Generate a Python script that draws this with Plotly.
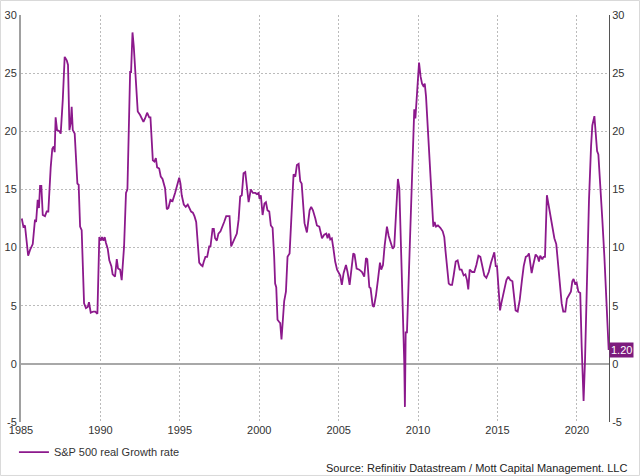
import plotly.graph_objects as go

# ---- data (decimal year, real growth rate %) ----
years = [
    1985.05, 1985.15, 1985.25, 1985.45, 1985.57, 1985.74, 1985.88, 1985.95, 1986.05, 1986.13,
    1986.20, 1986.28, 1986.37, 1986.51, 1986.62, 1986.72, 1986.87, 1986.97, 1987.06, 1987.12,
    1987.18, 1987.27, 1987.42, 1987.50, 1987.63, 1987.75, 1987.88, 1987.96, 1988.05, 1988.13,
    1988.19, 1988.26, 1988.38, 1988.55, 1988.63, 1988.72, 1988.82, 1988.97, 1989.09, 1989.20,
    1989.28, 1989.39, 1989.56, 1989.68, 1989.81, 1989.93, 1990.02, 1990.10, 1990.19, 1990.27,
    1990.35, 1990.46, 1990.56, 1990.69, 1990.77, 1990.92, 1991.03, 1991.11, 1991.24, 1991.34,
    1991.49, 1991.61, 1991.70, 1991.87, 1991.93, 1992.02, 1992.10, 1992.23, 1992.35, 1992.50,
    1992.71, 1992.81, 1992.94, 1993.07, 1993.15, 1993.30, 1993.40, 1993.49, 1993.57, 1993.70,
    1993.80, 1993.91, 1994.01, 1994.07, 1994.18, 1994.28, 1994.41, 1994.54, 1994.70, 1994.85,
    1994.96, 1995.04, 1995.12, 1995.25, 1995.37, 1995.50, 1995.61, 1995.71, 1995.82, 1995.92,
    1996.03, 1996.13, 1996.22, 1996.34, 1996.43, 1996.51, 1996.61, 1996.72, 1996.85, 1996.93,
    1997.06, 1997.14, 1997.22, 1997.33, 1997.43, 1997.56, 1997.69, 1997.79, 1997.92, 1998.02,
    1998.13, 1998.23, 1998.42, 1998.59, 1998.70, 1998.80, 1998.90, 1999.01, 1999.12, 1999.22,
    1999.33, 1999.47, 1999.60, 1999.75, 1999.85, 1999.96, 2000.02, 2000.10, 2000.21, 2000.33,
    2000.42, 2000.52, 2000.63, 2000.73, 2000.84, 2000.94, 2001.00, 2001.07, 2001.15, 2001.26,
    2001.32, 2001.40, 2001.49, 2001.57, 2001.68, 2001.78, 2001.91, 2002.06, 2002.16, 2002.27,
    2002.37, 2002.48, 2002.58, 2002.67, 2002.75, 2002.85, 2003.00, 2003.17, 2003.27, 2003.38,
    2003.53, 2003.63, 2003.78, 2003.95, 2004.09, 2004.22, 2004.30, 2004.39, 2004.47, 2004.57,
    2004.68, 2004.78, 2004.90, 2005.00, 2005.10, 2005.20, 2005.31, 2005.46, 2005.56, 2005.69,
    2005.79, 2005.92, 2006.00, 2006.13, 2006.30, 2006.47, 2006.61, 2006.72, 2006.80, 2006.93,
    2007.01, 2007.14, 2007.22, 2007.35, 2007.47, 2007.60, 2007.68, 2007.79, 2007.89, 2008.04,
    2008.15, 2008.27, 2008.40, 2008.50, 2008.61, 2008.73, 2008.82, 2008.92, 2008.99, 2009.07,
    2009.13, 2009.17, 2009.22, 2009.30, 2009.41, 2009.51, 2009.62, 2009.76, 2009.83, 2009.91,
    2010.00, 2010.06, 2010.16, 2010.25, 2010.33, 2010.42, 2010.50, 2010.67, 2010.84, 2010.96,
    2011.04, 2011.13, 2011.25, 2011.40, 2011.55, 2011.65, 2011.72, 2011.82, 2011.93, 2012.03,
    2012.14, 2012.24, 2012.37, 2012.49, 2012.62, 2012.74, 2012.87, 2012.98, 2013.08, 2013.16,
    2013.25, 2013.40, 2013.54, 2013.67, 2013.80, 2013.92, 2014.05, 2014.17, 2014.30, 2014.45,
    2014.59, 2014.72, 2014.80, 2014.89, 2014.97, 2015.07, 2015.16, 2015.24, 2015.33, 2015.43,
    2015.56, 2015.68, 2015.81, 2015.94, 2016.02, 2016.14, 2016.27, 2016.40, 2016.54, 2016.65,
    2016.78, 2016.90, 2016.98, 2017.05, 2017.15, 2017.25, 2017.40, 2017.53, 2017.61, 2017.69,
    2017.82, 2017.90, 2017.99, 2018.11, 2018.20, 2018.32, 2018.45, 2018.58, 2018.70, 2018.79,
    2018.91, 2019.04, 2019.14, 2019.27, 2019.37, 2019.50, 2019.62, 2019.71, 2019.79, 2019.88,
    2019.98, 2020.09, 2020.21, 2020.30, 2020.42, 2020.51, 2020.63, 2020.76, 2020.89, 2020.97,
    2021.10, 2021.18, 2021.27, 2021.35, 2021.46, 2021.60, 2021.73, 2021.87, 2022.00,
]
growth = [
    12.5, 11.8, 11.9, 9.3, 9.8, 10.3, 12.4, 12.2, 14.1, 13.4,
    15.3, 15.3, 12.8, 12.7, 13.1, 13.1, 16.9, 18.5, 18.7, 18.2,
    21.2, 20.1, 20.0, 19.8, 22.7, 26.4, 26.1, 25.7, 20.1, 20.7,
    22.1, 20.1, 19.8, 15.5, 15.4, 11.8, 11.5, 5.2, 4.8, 4.9,
    5.3, 4.4, 4.5, 4.5, 4.3, 10.9, 10.6, 10.9, 10.6, 10.9,
    10.4, 9.9, 8.9, 8.4, 7.7, 7.5, 9.0, 8.2, 8.1, 7.2,
    10.1, 14.7, 15.0, 25.1, 25.1, 28.5, 27.3, 24.4, 21.7, 21.4,
    20.8, 21.1, 21.6, 21.2, 21.2, 17.5, 17.4, 17.7, 16.9, 16.8,
    16.1, 15.9, 15.2, 15.1, 13.3, 13.4, 14.1, 14.0, 14.7, 15.5,
    16.0, 15.5, 14.5, 13.7, 13.5, 13.7, 13.4, 13.1, 13.0, 12.7,
    12.2, 9.8, 8.7, 8.5, 8.4, 8.8, 9.2, 9.2, 10.1, 10.1,
    11.6, 11.6, 10.8, 10.6, 11.2, 11.4, 11.8, 12.2, 12.7, 12.7,
    12.7, 10.1, 10.7, 11.2, 12.4, 14.4, 14.5, 16.4, 16.5, 15.2,
    13.9, 15.0, 14.7, 14.7, 14.6, 14.7, 14.2, 14.5, 12.8, 13.8,
    13.9, 13.2, 13.1, 11.9, 11.7, 9.2, 6.9, 6.6, 3.8, 3.6,
    3.5, 2.1, 4.4, 5.4, 6.2, 9.2, 9.5, 14.1, 16.3, 16.1,
    17.1, 17.2, 15.7, 15.5, 14.2, 12.1, 11.3, 13.2, 13.5, 13.2,
    12.5, 11.9, 11.8, 10.8, 11.1, 11.2, 10.8, 11.2, 10.7, 10.8,
    9.8, 8.8, 8.1, 7.8, 7.6, 6.8, 7.8, 8.5, 7.9, 6.8,
    8.1, 9.5, 9.4, 8.2, 8.1, 7.9, 7.5, 9.1, 9.0, 6.6,
    6.5, 5.0, 4.9, 5.9, 7.2, 8.7, 8.1, 8.5, 10.1, 11.8,
    11.0, 10.5, 9.9, 10.1, 12.9, 15.9, 15.1, 9.8, 8.4, 3.5,
    0.1, -3.7, 2.7, 2.7, 6.9, 11.8, 15.8, 21.9, 21.1, 22.7,
    24.1, 25.9, 24.7, 24.1, 23.9, 24.1, 23.0, 18.4, 14.4, 11.8,
    12.2, 11.8, 11.9, 11.7, 11.4, 10.9, 9.8, 8.5, 6.9, 6.8,
    6.8, 7.6, 8.8, 8.9, 8.1, 8.1, 7.6, 7.7, 7.2, 6.4,
    8.1, 7.9, 7.9, 8.5, 9.3, 9.2, 8.4, 7.6, 7.4, 7.9,
    8.7, 9.4, 9.6, 8.4, 8.4, 6.4, 4.6, 5.2, 5.8, 6.4,
    7.2, 7.5, 7.2, 7.1, 5.9, 4.6, 4.5, 5.5, 7.2, 8.4,
    9.2, 9.3, 9.5, 8.7, 7.8, 8.5, 9.4, 9.2, 8.8, 9.3,
    9.0, 9.2, 9.2, 14.5, 13.8, 12.7, 11.7, 10.8, 10.3, 8.9,
    6.5, 5.2, 4.5, 4.5, 5.6, 5.9, 6.2, 7.1, 7.3, 6.9,
    7.0, 6.2, 6.1, 1.5, -3.2, 0.3, 8.4, 14.1, 18.7, 20.5,
    21.3, 19.5, 18.3, 18.0, 15.8, 12.4, 9.2, 4.9, 1.2,
]

x_ticks = [1985, 1990, 1995, 2000, 2005, 2010, 2015, 2020]
x_tick_labels = ["1985", "1990", "1995", "2000", "2005", "2010", "2015", "2020"]
y_ticks = [-5, 0, 5, 10, 15, 20, 25, 30]
y_tick_labels = ["-5", "0", "5", "10", "15", "20", "25", "30"]

series_name = "S&P 500 real Growth rate"
source_text = "Source: Refinitiv Datastream / Mott Capital Management. LLC"
last_label = "1.20"

LINE = "#8c198c"
FONT = "Liberation Sans, Arial, sans-serif"
GRID = "#bbbbbb"
GRIDDASH = "2px,2px"

fig = go.Figure()
fig.add_trace(go.Scatter(
    x=years, y=growth, mode="lines", name=series_name,
    line=dict(color=LINE, width=1.8), showlegend=True,
))
# same series on the right axis, invisible, so the right axis is drawn
fig.add_trace(go.Scatter(
    x=years, y=growth, mode="lines", yaxis="y2",
    line=dict(color="rgba(0,0,0,0)", width=0), showlegend=False, hoverinfo="skip",
))

fig.update_layout(
    width=640, height=476,
    margin=dict(l=21, r=31, t=15, b=54, autoexpand=False),
    paper_bgcolor="white", plot_bgcolor="white",
    font=dict(family=FONT, size=11, color="#333333"),
    xaxis=dict(
        range=[1985, 2022.02], tickmode="array", tickvals=x_ticks, ticktext=x_tick_labels,
        showgrid=True, gridcolor=GRID, griddash=GRIDDASH, gridwidth=1,
        zeroline=False, showline=False, ticks="", automargin=False,
        tickfont=dict(size=11, color="#333333"),
    ),
    yaxis=dict(
        range=[-5, 30], tickmode="array", tickvals=y_ticks, ticktext=y_tick_labels,
        showgrid=True, gridcolor=GRID, griddash=GRIDDASH, gridwidth=1,
        zeroline=True, zerolinecolor="#a8a8a8", zerolinewidth=2,
        showline=True, linecolor="#a0a0a0", linewidth=2, ticks="", automargin=False,
        tickfont=dict(size=11, color="#333333"),
    ),
    yaxis2=dict(
        range=[-5, 30], tickmode="array", tickvals=y_ticks, ticktext=y_tick_labels,
        overlaying="y", side="right", showgrid=False, zeroline=False,
        showline=True, linecolor="#555555", linewidth=1, ticks="", automargin=False,
        tickfont=dict(size=11, color="#333333"),
    ),
    legend=dict(
        orientation="h", x=-0.012, xanchor="left", y=-0.074, yanchor="middle",
        font=dict(size=11, color="#333333"), bgcolor="rgba(0,0,0,0)",
    ),
    showlegend=True,
    annotations=[
        dict(text=source_text, xref="paper", yref="paper", x=1.034, y=-0.113,
             xanchor="right", yanchor="middle", showarrow=False,
             font=dict(size=11, color="#222222")),
        dict(text=last_label, xref="paper", yref="y", x=1.0, y=growth[-1],
             xanchor="left", yanchor="middle", showarrow=False,
             bgcolor="#7d1a7d", borderpad=1,
             font=dict(size=11, color="white")),
    ],
    shapes=[
        dict(type="rect", xref="paper", yref="paper",
             x0=-0.0349, x1=1.0519, y0=-0.1314, y1=1.0356,
             line=dict(color="#d9d9d9", width=1), fillcolor="rgba(0,0,0,0)", layer="below"),
    ],
)

fig.write_html(
    "out.html",
    config={"displayModeBar": False},
    post_script="document.body.style.margin='0';document.body.style.overflow='hidden';",
)
